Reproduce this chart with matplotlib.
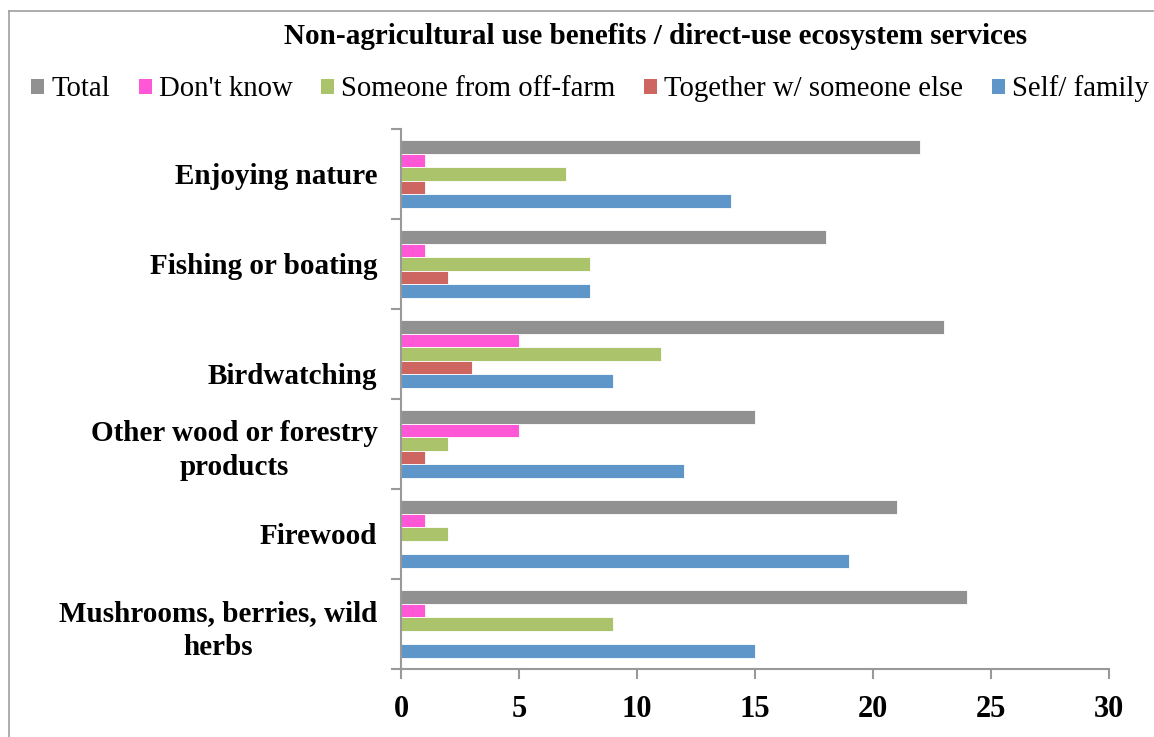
import matplotlib.pyplot as plt
import numpy as np
from matplotlib.lines import Line2D
from matplotlib.patches import Patch
import matplotlib.transforms as mtransforms

# categories, bottom to top
categories = ['Mushrooms, berries, wild\nherbs', 'Firewood', 'Other wood or forestry\nproducts',
              'Birdwatching', 'Fishing or boating', 'Enjoying nature']

series_names = ['Total', "Don't know", 'Someone from off-farm', 'Together w/ someone else', 'Self/ family']
total = [24, 21, 15, 23, 18, 22]
dont_know = [1, 1, 5, 5, 1, 1]
off_farm = [9, 2, 2, 11, 8, 7]
together = [0, 0, 1, 3, 2, 1]
self_family = [15, 19, 12, 9, 8, 14]

colors = ['#919191', '#FF57D6', '#ABC46B', '#CD6660', '#5F96C9']

plt.rcParams['font.family'] = ['Liberation Serif', 'DejaVu Serif']

fig = plt.figure(figsize=(11.54, 7.37), dpi=100)
ax = fig.add_axes([401/1154, 1 - 669/737, 708/1154, 540/737])

y = np.arange(len(categories))
h = 0.15
all_series = [total, dont_know, off_farm, together, self_family]
offsets = [0.3, 0.15, 0.0, -0.15, -0.3]
for vals, off, col, name in zip(all_series, offsets, colors, series_names):
    ax.barh(y + off, vals, height=h, color=col, edgecolor='white', linewidth=0.6, label=name)

ax.set_xlim(0, 30)
ax.set_ylim(-0.5, len(categories) - 0.5)
ax.set_xticks(np.arange(0, 31, 5))
ax.set_xticklabels([str(v) for v in range(0, 31, 5)], fontsize=22, fontweight='bold')

# category boundaries as ticks, labels at centres
ax.set_yticks(np.arange(-0.5, len(categories), 1))
ax.set_yticklabels([])
ax.set_yticks(y, minor=True)
ax.set_yticklabels(categories, minor=True, fontsize=21, fontweight='bold',
                   ha='right', multialignment='center', linespacing=1.33)
ax.tick_params(axis='y', which='minor', length=0, pad=17)
ax.tick_params(axis='y', which='major', length=7, color='#999999', width=1.5)
ax.tick_params(axis='x', length=7, color='#999999', width=1.5, pad=12)

# birdwatching label sits lower in the original
for lab in ax.get_yticklabels(minor=True):
    if lab.get_text() == 'Birdwatching':
        lab.set_transform(lab.get_transform() + mtransforms.ScaledTranslation(0, -0.19, fig.dpi_scale_trans))

for s in ['top', 'right']:
    ax.spines[s].set_visible(False)
for s in ['left', 'bottom']:
    ax.spines[s].set_color('#999999')
    ax.spines[s].set_linewidth(1.5)

fig.text(656/1154, 1 - 37/737, 'Non-agricultural use benefits / direct-use ecosystem services',
         ha='center', va='center', fontsize=21, fontweight='bold')

handles = [Patch(facecolor=c, edgecolor='none') for c in colors]
fig.legend(handles, series_names, loc='center', bbox_to_anchor=(590/1154, 1 - 89/737), ncol=5,
           frameon=False, fontsize=20.7, handlelength=0.45, handleheight=0.45, handletextpad=0.25,
           columnspacing=1.0, borderaxespad=0)

# outer chart border (top and left visible)
fig.add_artist(Line2D([9/1154, 1], [1 - 11/737, 1 - 11/737], transform=fig.transFigure, color='#A0A0A0', lw=1.2))
fig.add_artist(Line2D([9/1154, 9/1154], [0, 1 - 11/737], transform=fig.transFigure, color='#A0A0A0', lw=1.2))

fig.savefig('out.png', dpi=100)
